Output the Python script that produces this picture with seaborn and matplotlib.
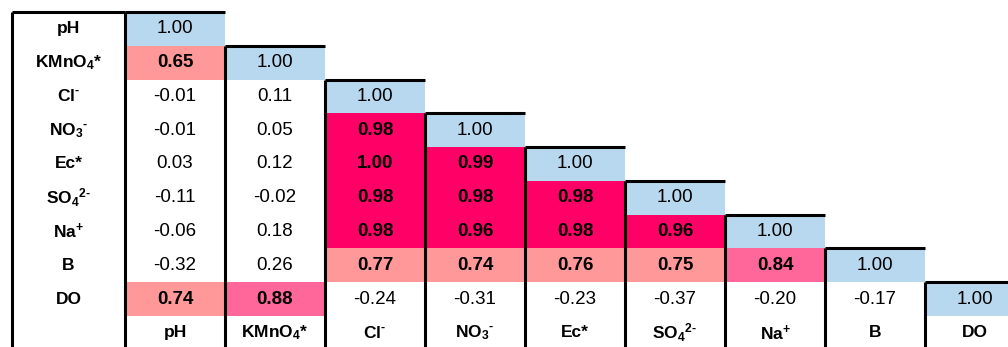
import numpy as np
import matplotlib
matplotlib.use("Agg")
import matplotlib.pyplot as plt
from matplotlib.colors import ListedColormap, BoundaryNorm
import seaborn as sns

# Variable names (row order = column order)
labels = ["pH", "KMnO$_4$*", r"Cl$^{\text{-}}$", r"NO$_3$$^{\text{-}}$", "Ec*",
          r"SO$_4$$^{2\text{-}}$", "Na$^{+}$", "B", "DO"]

# Lower-triangle Pearson correlation coefficients, one list per row
r_ph = [1.00]
r_kmno4 = [0.65, 1.00]
r_cl = [-0.01, 0.11, 1.00]
r_no3 = [-0.01, 0.05, 0.98, 1.00]
r_ec = [0.03, 0.12, 1.00, 0.99, 1.00]
r_so4 = [-0.11, -0.02, 0.98, 0.98, 0.98, 1.00]
r_na = [-0.06, 0.18, 0.98, 0.96, 0.98, 0.96, 1.00]
r_b = [-0.32, 0.26, 0.77, 0.74, 0.76, 0.75, 0.84, 1.00]
r_do = [0.74, 0.88, -0.24, -0.31, -0.23, -0.37, -0.20, -0.17, 1.00]
rows = [r_ph, r_kmno4, r_cl, r_no3, r_ec, r_so4, r_na, r_b, r_do]

# Shading classes for the off-diagonal coefficients
bounds = [-1.0, 0.6, 0.8, 0.9, 1.0001]
class_colors = ["#FFFFFF", "#FF9999", "#FF6699", "#FF0066"]
diag_color = "#B7D8EE"

n = len(labels)
corr = np.full((n, n), np.nan)
for i, r in enumerate(rows):
    corr[i, :len(r)] = r

plt.rcParams["font.family"] = ["Liberation Sans", "DejaVu Sans"]
plt.rcParams["mathtext.fontset"] = "custom"
plt.rcParams["mathtext.rm"] = "Liberation Sans:bold"
plt.rcParams["mathtext.bf"] = "Liberation Sans:bold"
plt.rcParams["mathtext.it"] = "Liberation Sans:italic"
plt.rcParams["mathtext.default"] = "bf"

fig = plt.figure(figsize=(10.08, 3.47), dpi=100)
ax = fig.add_axes([0, 0, 1, 1])

idx_r, idx_c = np.indices(corr.shape)
off_mask = (idx_c >= idx_r) | np.isnan(corr)
diag_mask = idx_c != idx_r

sns.heatmap(corr, mask=off_mask, cmap=ListedColormap(class_colors),
            norm=BoundaryNorm(bounds, len(class_colors)), cbar=False,
            linewidths=0, ax=ax)
sns.heatmap(corr, mask=diag_mask, cmap=ListedColormap([diag_color]),
            vmin=0, vmax=2, cbar=False, linewidths=0, ax=ax)

# Cell values: significant off-diagonal coefficients in bold
val_fs = 13.5
for i, r in enumerate(rows):
    for j, v in enumerate(r):
        bold = (i != j) and v >= bounds[1]
        ax.text(j + 0.5, i + 0.5, f"{v:.2f}", ha="center", va="center",
                fontsize=val_fs, fontweight="bold" if bold else "normal",
                color="black")

# Row and column headers
label_col_w = 1.13
lab_fs = 12.5
for i, lab in enumerate(labels):
    ax.text(-label_col_w / 2, i + 0.5, lab, ha="center", va="center",
            fontsize=lab_fs, fontweight="bold", clip_on=False)
    ax.text(i + 0.5, n + 0.5, lab, ha="center", va="center",
            fontsize=lab_fs, fontweight="bold", clip_on=False)

# Staircase borders
lw = 2.2
bottom = n + 2
ax.vlines(-label_col_w, 0, bottom, color="black", lw=lw, clip_on=False)
ax.hlines(0, -label_col_w, 0, color="black", lw=lw, clip_on=False)
for j in range(n):
    ax.vlines(j, j, bottom, color="black", lw=lw, clip_on=False)
    ax.hlines(j, j, j + 1, color="black", lw=lw, clip_on=False)

# Map data units onto the canvas: 100 px per column, ~33.8 px per row
px_col = 100.0
px_row = 304.0 / n
ax.set_xlim(-125 / px_col, -125 / px_col + 1008 / px_col)
ax.set_ylim(n + (347 - 316) / px_row, -12 / px_row)
ax.set_xticks([])
ax.set_yticks([])
for s in ax.spines.values():
    s.set_visible(False)

fig.savefig("out.png", dpi=100)
